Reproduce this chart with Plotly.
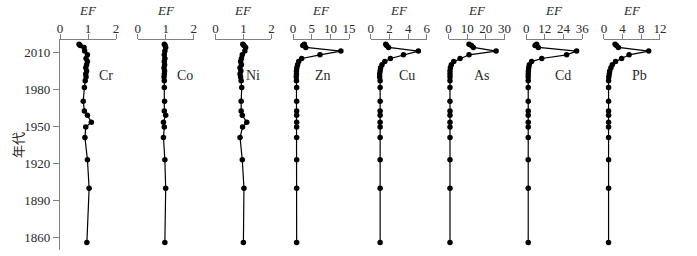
import plotly.graph_objects as go

years = [2016.5, 2015.5, 2014, 2011, 2008, 2005, 2002.5, 2000, 1997.5, 1995, 1992.5, 1990, 1987,
         1981.5, 1970.5, 1962.5, 1959, 1953.5, 1949.5, 1941, 1923, 1900, 1856]

Cr = [0.68, 0.72, 0.86, 0.88, 0.98, 0.93, 0.98, 0.95, 0.92, 0.95, 0.92, 0.93, 0.90,
      0.87, 0.83, 0.87, 0.98, 1.12, 0.92, 0.89, 0.98, 1.04, 0.96]
Co = [0.95, 0.98, 1.0, 0.97, 0.95, 0.97, 0.95, 0.96, 0.94, 0.96, 0.95, 0.94, 0.95,
      0.95, 0.96, 0.95, 1.0, 0.92, 0.95, 0.92, 0.97, 1.0, 0.97]
Ni = [0.98, 1.02, 1.08, 1.05, 0.96, 0.93, 0.90, 0.93, 0.88, 0.91, 0.88, 0.90, 0.92,
      0.94, 0.92, 0.92, 0.96, 1.12, 0.97, 0.88, 0.96, 1.02, 1.00]
Zn = [3.0, 2.6, 3.4, 12.8, 7.2, 2.3, 1.5, 1.2, 1.0, 0.9, 0.9, 0.85, 0.9,
      0.95, 0.95, 0.95, 0.95, 0.95, 0.95, 0.95, 0.95, 0.95, 0.95]
Cu = [1.6, 1.7, 1.9, 5.1, 3.5, 2.1, 1.5, 1.2, 1.05, 1.0, 0.95, 0.95, 1.0,
      1.0, 1.0, 1.0, 1.0, 1.0, 1.0, 1.0, 1.0, 1.0, 1.0]
As = [11.0, 12.3, 13.3, 25.5, 11.0, 6.2, 2.8, 1.5, 1.0, 0.8, 0.8, 0.8, 0.8,
      0.8, 0.8, 0.8, 0.8, 0.8, 0.8, 0.8, 0.8, 0.8, 0.8]
Cd = [6.7, 5.7, 7.8, 32.4, 26.0, 10.0, 3.5, 2.0, 1.6, 1.4, 1.3, 1.3, 1.3,
      1.3, 1.3, 1.3, 1.3, 1.3, 1.3, 1.3, 1.3, 1.3, 1.3]
Pb = [2.4, 2.7, 3.1, 9.6, 5.4, 3.8, 2.5, 1.8, 1.5, 1.25, 1.15, 1.05, 1.0,
      1.0, 1.0, 1.0, 1.0, 1.0, 1.0, 1.0, 1.0, 1.0, 1.0]

elements = ["Cr", "Co", "Ni", "Zn", "Cu", "As", "Cd", "Pb"]
series = [Cr, Co, Ni, Zn, Cu, As, Cd, Pb]
x_max = [2, 2, 2, 15, 6, 30, 36, 12]
x_ticks = [[0, 1, 2], [0, 1, 2], [0, 1, 2], [0, 5, 10, 15], [0, 2, 4, 6],
           [0, 10, 20, 30], [0, 12, 24, 36], [0, 4, 8, 12]]
y_ticks = [1860, 1890, 1920, 1950, 1980, 2010]

W, H = 697, 256
ML, MR, MT, MB = 60, 37, 40, 6
PW = W - ML - MR
PH = H - MT - MB
panel_w = 56
step = 77.7
label_px = [105.7, 185, 253.3, 322.7, 406.7, 481.7, 563.3, 639.3]

FONT = "Liberation Serif"
TXT = "#2a2a2a"
LINE = "#808080"

fig = go.Figure()
layout = dict(
    width=W, height=H,
    margin=dict(l=ML, r=MR, t=MT, b=MB, pad=0),
    paper_bgcolor="white", plot_bgcolor="white",
    showlegend=False,
    font=dict(family=FONT, size=12, color=TXT),
)
annotations = []
for i, (el, vals) in enumerate(zip(elements, series)):
    ax = "x" if i == 0 else f"x{i+1}"
    axkey = "xaxis" if i == 0 else f"xaxis{i+1}"
    start = step * i
    d0 = start / PW
    d1 = (start + panel_w) / PW
    fig.add_trace(go.Scatter(
        x=vals, y=years, xaxis=ax, yaxis="y", mode="lines+markers",
        line=dict(color="black", width=1.2),
        marker=dict(color="black", size=5.5),
        cliponaxis=False,
    ))
    layout[axkey] = dict(
        domain=[d0, d1], range=[0, x_max[i]], side="top", anchor="y",
        showline=True, linecolor=LINE, linewidth=1.2,
        ticks="outside", ticklen=5, tickwidth=1.2, tickcolor=LINE,
        tickvals=x_ticks[i], showgrid=False, zeroline=False,
        tickfont=dict(family=FONT, size=13, color=TXT),
        ticklabelstandoff=-4,
        fixedrange=True,
    )
    annotations.append(dict(
        text="<i>EF</i>", xref=f"{ax} domain", x=0.5, yref="paper",
        y=(H - MB - 10) / PH, showarrow=False, xanchor="center", yanchor="middle",
        font=dict(family=FONT, size=13, color=TXT),
    ))
    annotations.append(dict(
        text=el, xref="paper", x=(label_px[i] - ML) / PW, yref="paper",
        y=(H - MB - 76) / PH, showarrow=False, xanchor="center", yanchor="middle",
        font=dict(family=FONT, size=14, color=TXT),
    ))

layout["yaxis"] = dict(
    domain=[0, 1], range=[1850, 2020], anchor="x",
    showline=True, linecolor=LINE, linewidth=1.2,
    ticks="outside", ticklen=6, tickwidth=1.2, tickcolor=LINE,
    tickvals=y_ticks, showgrid=False, zeroline=False,
    tickfont=dict(family=FONT, size=13, color=TXT),
    fixedrange=True,
)
annotations.append(dict(
    text="年代", xref="paper", x=(17 - ML) / PW, yref="paper",
    y=(H - MB - 145) / PH, showarrow=False, textangle=-90,
    xanchor="center", yanchor="middle",
    font=dict(family="Noto Sans CJK SC", size=13, color=TXT),
))
layout["annotations"] = annotations
fig.update_layout(**layout)
fig.write_html("out.html")
